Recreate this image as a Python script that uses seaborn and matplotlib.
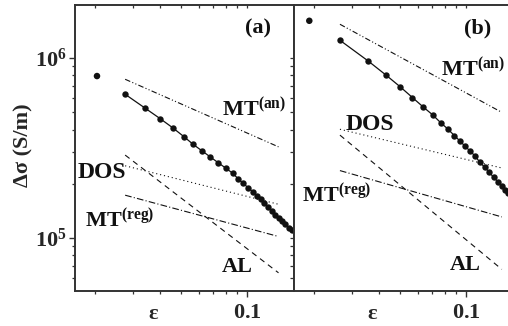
import numpy as np
import pandas as pd
import matplotlib
matplotlib.use("Agg")
import matplotlib.pyplot as plt
import seaborn as sns
from matplotlib.ticker import FixedLocator, NullFormatter, LogLocator, FuncFormatter, FixedFormatter

# ---------------- data ----------------
# panel (a)
eps_a = [0.0276, 0.0339, 0.0399, 0.0456, 0.0516, 0.0567, 0.0624, 0.0679, 0.0738,
         0.0801, 0.0860, 0.0912, 0.0961, 0.1014, 0.1062, 0.1108, 0.1155, 0.1200,
         0.1250, 0.1300, 0.1350, 0.1397, 0.1447, 0.1498, 0.1553, 0.1603]
sig_a = [6.29e5, 5.29e5, 4.61e5, 4.10e5, 3.64e5, 3.31e5, 3.04e5, 2.82e5, 2.62e5,
         2.44e5, 2.29e5, 2.13e5, 2.01e5, 1.90e5, 1.81e5, 1.71e5, 1.64e5, 1.56e5,
         1.48e5, 1.41e5, 1.35e5, 1.29e5, 1.24e5, 1.19e5, 1.14e5, 1.11e5]
eps_a_first = [0.0205]
sig_a_first = [7.94e5]
theory_eps_a = [0.0276, 0.1395]
mt_an_a = [7.62e5, 3.21e5]
dos_a = [2.52e5, 1.54e5]
mt_reg_a = [1.73e5, 1.02e5]
al_a = [2.89e5, 6.41e4]

# panel (b)
eps_b = [0.0263, 0.0356, 0.0431, 0.0499, 0.0568, 0.0637, 0.0705, 0.0764, 0.0824,
         0.0884, 0.0938, 0.0989, 0.1045, 0.1102, 0.1159, 0.1219, 0.1279, 0.1340,
         0.1397, 0.1458, 0.1515, 0.1563]
sig_b = [1.259e6, 9.62e5, 8.01e5, 6.92e5, 6.03e5, 5.34e5, 4.82e5, 4.38e5, 4.04e5,
         3.71e5, 3.46e5, 3.24e5, 3.04e5, 2.85e5, 2.63e5, 2.47e5, 2.32e5, 2.17e5,
         2.06e5, 1.95e5, 1.85e5, 1.77e5]
eps_b_first = [0.0191]
sig_b_first = [1.61e6]
theory_eps_b = [0.0264, 0.146]
mt_an_b = [1.54e6, 4.99e5]
dos_b = [4.02e5, 2.45e5]
mt_reg_b = [2.37e5, 1.31e5]
al_b = [3.73e5, 6.7e4]

x_tick_vals = [0.1]
x_tick_labels = ["0.1"]
panel_labels = ["(a)", "(b)"]
curve_labels = [r"$\mathbf{MT^{(an)}}$", "DOS", r"$\mathbf{MT^{(reg)}}$", "AL"]

# ---------------- style ----------------
sns.set_style("ticks")
plt.rcParams["font.family"] = ["Liberation Serif", "DejaVu Serif"]
plt.rcParams["mathtext.fontset"] = "custom"
plt.rcParams["mathtext.rm"] = "Liberation Serif:bold"
plt.rcParams["mathtext.bf"] = "Liberation Serif:bold"
plt.rcParams["mathtext.it"] = "Liberation Serif:italic:bold"

FS = 16
INK = "#111111"
SPINE = "#333333"

fig = plt.figure(figsize=(5.08, 3.26), dpi=100)
W, H = 508.0, 326.0
left_a, right_a, top_px, bot_px = 75, 294, 5, 291
ax_w = 219
axa = fig.add_axes([left_a / W, 1 - bot_px / H, ax_w / W, (bot_px - top_px) / H])
axb = fig.add_axes([right_a / W, 1 - bot_px / H, ax_w / W, (bot_px - top_px) / H])

xlim = (0.01625, 0.1643)
ylim = (5.08e4, 1.97e6)

styles = {
    "mt_an": (0, (5, 2, 1, 2, 1, 2)),
    "dos": (0, (1, 2.6)),
    "mt_reg": (0, (6, 2, 1, 2)),
    "al": (0, (5, 4)),
}

def draw(ax, eps, sig, e1, s1, teps, mtan, dos, mtreg, al):
    df = pd.DataFrame({"eps": eps, "sig": sig})
    sns.lineplot(data=df, x="eps", y="sig", ax=ax, color=INK, lw=0.9,
                 marker="o", markersize=4.6, markeredgewidth=0, sort=False)
    sns.scatterplot(x=e1, y=s1, ax=ax, color=INK, s=22, edgecolor="none")
    for key, vals in (("mt_an", mtan), ("dos", dos), ("mt_reg", mtreg), ("al", al)):
        sns.lineplot(x=teps, y=vals, ax=ax, color=INK, lw=0.8, linestyle=styles[key], sort=False)
    ax.set_xscale("log")
    ax.set_yscale("log")
    ax.set_xlim(*xlim)
    ax.set_ylim(*ylim)
    for s in ax.spines.values():
        s.set_color(SPINE)
        s.set_linewidth(1.4)
        s.set_visible(True)
    ax.xaxis.set_major_locator(FixedLocator(x_tick_vals))
    ax.xaxis.set_major_formatter(FixedFormatter([r"$\mathbf{%s}$" % t for t in x_tick_labels]))
    ax.xaxis.set_minor_locator(LogLocator(base=10, subs=np.arange(2, 10)))
    ax.xaxis.set_minor_formatter(NullFormatter())
    ax.yaxis.set_major_locator(LogLocator(base=10))
    ax.yaxis.set_minor_locator(LogLocator(base=10, subs=np.arange(2, 10)))
    ax.yaxis.set_minor_formatter(NullFormatter())
    ax.yaxis.set_major_formatter(FuncFormatter(lambda v, p: r"$\mathbf{10^{%d}}$" % round(np.log10(v))))
    ax.tick_params(axis="both", which="major", direction="out", length=4, width=1.0,
                   color=SPINE, labelsize=FS, pad=2)
    ax.tick_params(axis="both", which="minor", direction="out", length=2.5, width=0.9, color=SPINE)
    ax.tick_params(axis="x", which="major", pad=5)
    # top (inward) ticks
    sec = ax.secondary_xaxis("top")
    sec.xaxis.set_major_locator(FixedLocator(x_tick_vals))
    sec.xaxis.set_minor_locator(LogLocator(base=10, subs=np.arange(2, 10)))
    sec.xaxis.set_major_formatter(NullFormatter())
    sec.xaxis.set_minor_formatter(NullFormatter())
    sec.tick_params(which="both", direction="in", length=2.5, width=0.9, color=SPINE)
    sec.spines["top"].set_visible(False)
    ax.set_xlabel("ε", fontsize=FS, fontweight="bold")
    ax.xaxis.set_label_coords(0.356, -0.045)
    ax.set_ylabel("")

draw(axa, eps_a, sig_a, eps_a_first, sig_a_first, theory_eps_a, mt_an_a, dos_a, mt_reg_a, al_a)
draw(axb, eps_b, sig_b, eps_b_first, sig_b_first, theory_eps_b, mt_an_b, dos_b, mt_reg_b, al_b)

# panel (a) right ticks inward
seca = axa.secondary_yaxis("right")
seca.yaxis.set_major_locator(LogLocator(base=10))
seca.yaxis.set_minor_locator(LogLocator(base=10, subs=np.arange(2, 10)))
seca.yaxis.set_major_formatter(NullFormatter())
seca.yaxis.set_minor_formatter(NullFormatter())
seca.tick_params(which="both", direction="in", length=3, width=0.9, color=SPINE)
seca.spines["right"].set_visible(False)

# panel (b): no left ticks / labels
axb.tick_params(axis="y", which="both", left=False, labelleft=False)

axa.set_ylabel("Δσ (S/m)", fontsize=FS, fontweight="bold")
axa.yaxis.set_label_coords(-0.19, 0.51)

# curve labels (axes-fraction positions, left/baseline)
pos_a = [(0.671, 0.608), (0.014, 0.395), (0.046, 0.22), (0.671, 0.066)]
pos_b = [(0.671, 0.748), (0.237, 0.563), (0.037, 0.308), (0.712, 0.073)]
for ax, pos, pl in ((axa, pos_a, panel_labels[0]), (axb, pos_b, panel_labels[1])):
    for i, (lab, (fx, fy)) in enumerate(zip(curve_labels, pos)):
        fs = FS + 1 if lab == "DOS" else FS
        ax.text(fx, fy, lab, transform=ax.transAxes, fontsize=fs, fontweight="bold",
                ha="left", va="baseline", color=INK)
    ax.text(0.776, 0.902, pl, transform=ax.transAxes, fontsize=FS, fontweight="bold",
            ha="left", va="baseline", color=INK)

fig.savefig("out.png", dpi=100)
